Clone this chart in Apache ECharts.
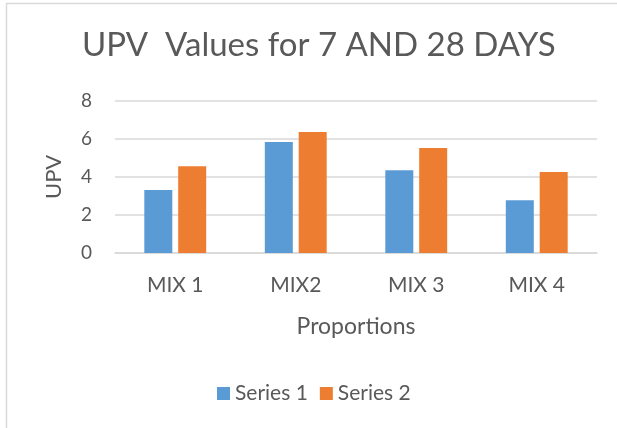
<!DOCTYPE html>
<html>
<head>
<meta charset="utf-8">
<script src="https://cdn.jsdelivr.net/npm/echarts@6/dist/echarts.min.js"></script>
<style>
html,body{margin:0;padding:0;background:#fff;}
#c{width:617px;height:428px;}
</style>
</head>
<body>
<div id="c"></div>
<script>
var categories = ['MIX 1', 'MIX2', 'MIX 3', 'MIX 4'];
var series1 = [3.31, 5.84, 4.36, 2.78];
var series2 = [4.57, 6.37, 5.52, 4.26];
var seriesNames = ['Series 1', 'Series 2'];
var yTicks = { min: 0, max: 8, interval: 2 };

var FONT = 'Lato';
var TXT = '#595959';
var chart = echarts.init(document.getElementById('c'));
chart.setOption({
  animation: false,
  backgroundColor: '#fff',
  title: {
    text: 'UPV  Values for 7 AND 28 DAYS',
    left: 82,
    top: 29,
    padding: 0,
    textStyle: { fontFamily: FONT, fontSize: 33, fontWeight: 'normal', color: TXT }
  },
  legend: {
    data: seriesNames,
    bottom: 24,
    left: 217,
    padding: 0,
    itemWidth: 13,
    itemHeight: 13,
    itemGap: 12,
    icon: 'rect',
    textStyle: { fontFamily: FONT, fontSize: 21, color: TXT }
  },
  graphic: [{
    type: 'rect',
    shape: { x: 6.5, y: 3.5, width: 1000, height: 1000 },
    style: { fill: 'none', stroke: '#d9d9d9', lineWidth: 1.5 },
    silent: true
  }],
  grid: { left: 115, right: 20, top: 101, bottom: 175 },
  xAxis: {
    type: 'category',
    data: categories,
    name: 'Proportions',
    nameLocation: 'middle',
    nameGap: 62,
    nameTextStyle: { fontFamily: FONT, fontSize: 23, color: TXT },
    axisLine: { show: true, lineStyle: { color: '#d9d9d9', width: 1.5 } },
    axisTick: { show: false },
    axisLabel: { fontFamily: FONT, fontSize: 21, color: TXT, margin: 22 }
  },
  yAxis: {
    type: 'value',
    min: yTicks.min,
    max: yTicks.max,
    interval: yTicks.interval,
    name: 'UPV',
    nameLocation: 'middle',
    nameGap: 50,
    nameTextStyle: { fontFamily: FONT, fontSize: 22, color: TXT },
    axisLine: { show: false },
    axisTick: { show: false },
    splitLine: { lineStyle: { color: '#d9d9d9', width: 1.5 } },
    axisLabel: { fontFamily: FONT, fontSize: 19, color: TXT, margin: 23 }
  },
  series: [
    { name: seriesNames[0], type: 'bar', data: series1, barWidth: 28, barGap: '21%', itemStyle: { color: '#5b9bd5' } },
    { name: seriesNames[1], type: 'bar', data: series2, barWidth: 28, barGap: '21%', itemStyle: { color: '#ed7d31' } }
  ]
});
</script>
</body>
</html>
